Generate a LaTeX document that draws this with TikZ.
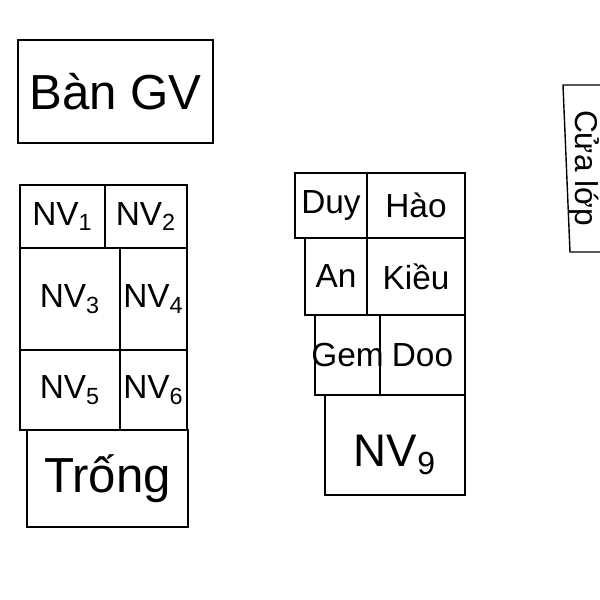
\documentclass[tikz,border=0pt]{standalone}
\usepackage{fontspec}
\setmainfont{Liberation Sans}
\newcommand{\seat}[6]{\draw[thick] (#1,#2) rectangle (#3,#4);
  \node[lbl] (#5) at ({(#1+#3)/2},{(#2+#4)/2}) {#6};}
\begin{document}
\begin{tikzpicture}[x=0.02cm,y=-0.02cm,
  lbl/.style={inner sep=0pt,anchor=center,font=\fontsize{19}{21}\selectfont},
  big/.style={font=\fontsize{28}{30}\selectfont}]
        \useasboundingbox (0,0) rectangle (600,600);
        %teacher desk and door
        \draw[thick] (18,40) rectangle (213,143);
        \node[big] (desk) at (115.5,91.5) {Bàn GV};
        \draw[thick] (610,85) -- (563,85) -- (570,252) -- (610,252);
        \node[rotate=-90,font=\fontsize{18}{20}\selectfont] (door) at (584,168) {Cửa lớp};
        %left block
        \seat{20}{185}{105}{248}{nv1}{NV\textsubscript{1}}
        \seat{105}{185}{187}{248}{nv2}{NV\textsubscript{2}}
        \seat{20}{248}{120}{350}{nv3}{NV\textsubscript{3}}
        \seat{120}{248}{187}{350}{nv4}{NV\textsubscript{4}}
        \seat{20}{350}{120}{430}{nv5}{NV\textsubscript{5}}
        \seat{120}{350}{187}{430}{nv6}{NV\textsubscript{6}}
        \draw[thick] (27,430) rectangle (188,527);
        \node[big] (empty) at (107.5,478.5) {Trống};
        %middle block
        \seat{295}{173}{367}{238}{duy}{Duy}
        \seat{367}{173}{465}{238}{hao}{Hào}
        \seat{305}{238}{367}{315}{an}{An}
        \seat{367}{238}{465}{315}{kieu}{Kiều}
        \seat{315}{315}{380}{395}{gem}{Gem}
        \seat{380}{315}{465}{395}{doo}{Doo}
        \draw[thick] (325,395) rectangle (465,495);
        \node[lbl,font=\fontsize{26}{28}\selectfont] (nv9) at (395,455) {NV\textsubscript{9}};
\end{tikzpicture}
\end{document}
